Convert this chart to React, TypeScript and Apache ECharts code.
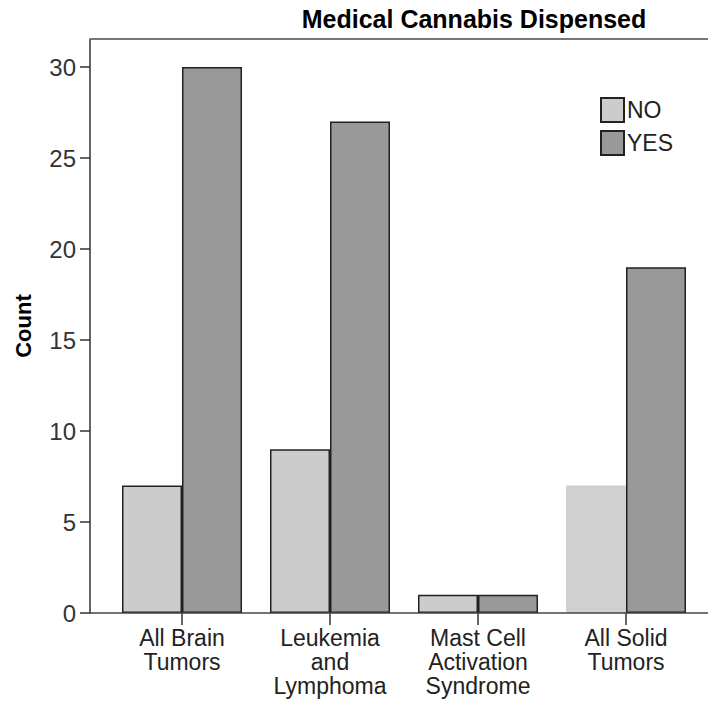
import React, { useEffect, useRef } from "react";
import * as echarts from "echarts";

const categories = ["All Brain\nTumors", "Leukemia\nand\nLymphoma", "Mast Cell\nActivation\nSyndrome", "All Solid\nTumors"];
const noValues = [7, 9, 1, 7];
const yesValues = [30, 27, 1, 19];
const seriesNames = ["NO", "YES"];

export default function App() {
  const ref = useRef<HTMLDivElement>(null);
  useEffect(() => {
    const chart = echarts.init(ref.current!, null, { renderer: "svg" });
    const font = "Arial, 'Liberation Sans', sans-serif";
    chart.setOption({
      animation: false,
      backgroundColor: "#ffffff",
      title: {
        text: "Medical Cannabis Dispensed",
        left: 474,
        top: 6,
        padding: 0,
        textAlign: "center",
        textStyle: { fontFamily: font, fontWeight: "bold", fontSize: 25, color: "#000" },
      },
      legend: {
        data: seriesNames,
        orient: "vertical",
        left: 600,
        top: 97,
        padding: 0,
        itemWidth: 23,
        itemHeight: 24,
        itemGap: 7,
        icon: "rect",
        textStyle: { fontFamily: font, fontSize: 23, color: "#222", padding: [0, 0, 0, -2] },
      },
      grid: { left: 108, right: 8, top: 39, bottom: 94, containLabel: false },
      xAxis: {
        type: "category",
        data: categories,
        axisLine: { show: false },
        axisTick: { show: true, alignWithLabel: true, length: 12, lineStyle: { color: "#333", width: 1.5 } },
        axisLabel: { fontFamily: font, fontSize: 23, color: "#222", lineHeight: 24, margin: 13, interval: 0 },
      },
      yAxis: {
        type: "value",
        min: 0,
        max: 31.54,
        interval: 5,
        offset: 18,
        name: "Count",
        nameLocation: "middle",
        nameGap: 56,
        nameTextStyle: { fontFamily: font, fontWeight: "bold", fontSize: 22, color: "#000" },
        axisLine: { show: true, lineStyle: { color: "#333", width: 1.5 } },
        axisTick: { show: true, length: 10, lineStyle: { color: "#333", width: 1.5 } },
        axisLabel: { fontFamily: font, fontSize: 24, color: "#333", margin: 14, showMaxLabel: false },
        splitLine: { show: false },
      },
      graphic: [
        { type: "line", shape: { x1: 90, y1: 39, x2: 708, y2: 39 }, style: { stroke: "#777", lineWidth: 2 }, z: 10 },
        { type: "line", shape: { x1: 90, y1: 613, x2: 708, y2: 613 }, style: { stroke: "#444", lineWidth: 1.5 }, z: 10 },
      ],
      series: [
        {
          name: seriesNames[0],
          type: "bar",
          data: noValues.map((v, i) =>
            i === 3 ? { value: v, itemStyle: { borderWidth: 0, color: "#d0d0d0" } } : v
          ),
          barWidth: 60,
          barGap: "0%",
          itemStyle: { color: "#cccccc", borderColor: "#222", borderWidth: 1.5 },
        },
        {
          name: seriesNames[1],
          type: "bar",
          data: yesValues,
          barWidth: 60,
          barGap: "0%",
          itemStyle: { color: "#999999", borderColor: "#222", borderWidth: 1.5 },
        },
      ],
    });
    return () => chart.dispose();
  }, []);
  return <div ref={ref} style={{ width: 708, height: 707, position: "absolute", left: 0, top: 0 }} />;
}
